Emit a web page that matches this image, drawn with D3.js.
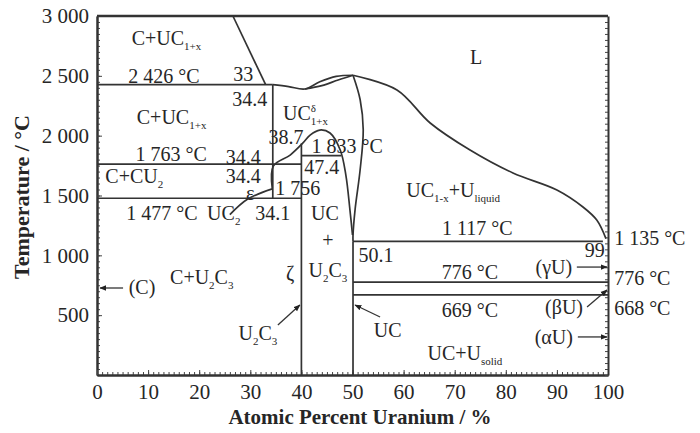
<!DOCTYPE html>
<html>
<head>
<meta charset="utf-8">
<script src="https://cdn.jsdelivr.net/npm/d3@7"></script>
<style>
  body { margin: 0; background: #fff; }
  text { font-family: "Liberation Serif", "Times New Roman", serif; fill: #262626; }
</style>
</head>
<body>
<script>
// axis ticks
const xTicks = [0, 10, 20, 30, 40, 50, 60, 70, 80, 90, 100];
const yTicks = [500, 1000, 1500, 2000, 2500, 3000];

// phase boundaries, [atomic % U, temperature °C]
const cLiquidus = [[26.6, 3000], [33, 2426]];
const eutectic2426 = [[0, 2426], [34.4, 2426]];
const line1763 = [[0, 1763], [40, 1763]];
const line1477 = [[0, 1477], [40, 1477]];
const uc2Edge = [[34.4, 2426], [34.4, 1477]];
const lensUpper = [[34.4, 2426], [37.5, 2410], [40.7, 2390], [43.6, 2450], [46.8, 2495], [50.1, 2505]];
const lensLower = [[40.7, 2390], [44, 2418], [47.2, 2465], [50.1, 2505]];
const ucRight = [[50.1, 2505], [51.5, 2300], [52.1, 2050], [51.5, 1717], [50.5, 1380], [50.1, 1170], [50.1, 1117]];
const ucEdge = [[50.1, 1117], [50.1, 0]];
const dome = [[34.3, 1560], [34.5, 1745], [37.8, 1838], [40.3, 1939], [41.7, 2005], [43.6, 2047], [45.6, 2022], [47.6, 1880], [48.7, 1671], [49.5, 1379], [50, 1170]];
const line1833 = [[40, 1833], [47.8, 1833]];
const epsCurve = [[26, 1340], [29.5, 1470], [34.3, 1555]];
const u2c3Edge = [[40, 1935], [40, 0]];
const line1117 = [[50.1, 1117], [99, 1117]];
const line776 = [[50.1, 776], [100, 776]];
const line669 = [[50.1, 669], [100, 669]];
const uLiquidus = [[50.1, 2505], [58.7, 2382], [65.2, 2106], [73, 1880], [81.4, 1688], [90, 1546], [95.1, 1404], [97.8, 1295], [99.6, 1140]];

const straight = [cLiquidus, eutectic2426, line1763, line1477, uc2Edge, ucEdge, line1833, u2c3Edge, line1117, line776, line669];
const curved = [lensUpper, lensLower, ucRight, dome, epsCurve, uLiquidus];

// leader arrows [from, to]
const leaders = [
  [[5.1, 727], [0.6, 727]],
  [[35.4, 418], [39.7, 585]],
  [[55.4, 485], [50.5, 585]],
  [[93.9, 902], [99.8, 902]],
  [[95.9, 568], [99.8, 710]],
  [[94.1, 318], [99.8, 318]]
];

// region / point labels [text, % U, °C, anchor]
const labels = [
  ["C+UC_{1+x}", 13.6, 2816, "middle"],
  ["2 426 °C", 13.1, 2499, "middle"],
  ["33", 28.6, 2515, "middle"],
  ["34.4", 29.9, 2310, "middle"],
  ["C+UC_{1+x}", 14.6, 2156, "middle"],
  ["UC^{δ}_{1+x}", 40.8, 2189, "middle"],
  ["38.7", 37.0, 1989, "middle"],
  ["1 763 °C", 14.5, 1847, "middle"],
  ["34.4", 28.6, 1822, "middle"],
  ["1 833 °C", 42.0, 1914, "start"],
  ["47.4", 44.0, 1738, "middle"],
  ["C+CU_{2}", 7.3, 1663, "middle"],
  ["34.4", 28.6, 1660, "middle"],
  ["ε", 30.0, 1520, "middle"],
  ["1 756", 39.3, 1563, "middle"],
  ["1 477 °C", 12.7, 1354, "middle"],
  ["UC_{2}", 24.8, 1354, "middle"],
  ["34.1", 34.4, 1354, "middle"],
  ["UC", 44.6, 1354, "middle"],
  ["+", 45.2, 1128, "middle"],
  ["U_{2}C_{3}", 45.2, 877, "middle"],
  ["ζ", 37.8, 852, "middle"],
  ["C+U_{2}C_{3}", 20.5, 819, "middle"],
  ["(C)", 8.8, 735, "middle"],
  ["U_{2}C_{3}", 31.5, 351, "middle"],
  ["L", 74.2, 2657, "middle"],
  ["UC_{1-x}+U_{liquid}", 69.7, 1546, "middle"],
  ["1 117 °C", 74.4, 1228, "middle"],
  ["1 135 °C", 101.2, 1145, "start"],
  ["50.1", 54.6, 1003, "middle"],
  ["99", 97.4, 1045, "middle"],
  ["776 °C", 73.0, 861, "middle"],
  ["(γU)", 89.4, 902, "middle"],
  ["776 °C", 101.2, 811, "start"],
  ["669 °C", 73.0, 543, "middle"],
  ["(βU)", 91.4, 568, "middle"],
  ["668 °C", 101.2, 560, "start"],
  ["UC", 56.9, 376, "middle"],
  ["UC+U_{solid}", 72.0, 184, "middle"],
  ["(αU)", 89.4, 318, "middle"]
];

const width = 700, height = 433;
const margin = {left: 97, right: 92, top: 16, bottom: 58};

const svg = d3.select('body').append('svg')
    .attr('width', width)
    .attr('height', height);

svg.append('defs').append('marker')
    .attr('id', 'arrow')
    .attr('viewBox', '0 0 10 10')
    .attr('refX', 9).attr('refY', 5)
    .attr('markerWidth', 7).attr('markerHeight', 7)
    .attr('markerUnits', 'userSpaceOnUse')
    .attr('orient', 'auto')
    .append('path')
    .attr('d', 'M0,1 L10,5 L0,9 Z')
    .attr('fill', '#222');

let x = d3.scaleLinear().domain([0, 100]).range([margin.left, width - margin.right]);
let y = d3.scaleLinear().domain([0, 3000]).range([height - margin.bottom, margin.top]);

const spaced = d => d3.format(',')(d).replace(/,/g, ' ');

//axes
let yAxis = d3.axisLeft(y).tickValues(yTicks).tickSizeInner(-5).tickSizeOuter(0).tickPadding(8).tickFormat(spaced);
let yMinor = d3.axisLeft(y).ticks(60).tickSizeInner(-3).tickSizeOuter(0).tickFormat('');
let xAxis = d3.axisBottom(x).tickValues(xTicks).tickSizeInner(-5).tickSizeOuter(0).tickPadding(9);
let xMinor = d3.axisBottom(x).ticks(100).tickSizeInner(-3).tickSizeOuter(0).tickFormat('');
let rMinor = d3.axisRight(y).ticks(60).tickSizeInner(-3).tickSizeOuter(0).tickFormat('');

const axisStyle = g => {
  g.select('.domain').attr('stroke', '#333').attr('stroke-width', 2);
  g.selectAll('.tick line').attr('stroke', '#444').attr('stroke-width', 1);
  g.selectAll('.tick text').style('font-size', '21px').attr('fill', '#333');
};

svg.append('g').attr('transform', `translate(${margin.left},0)`).call(yMinor).call(axisStyle);
svg.append('g').attr('transform', `translate(${margin.left},0)`).call(yAxis).call(axisStyle);
svg.append('g').attr('transform', `translate(0,${height - margin.bottom})`).call(xMinor).call(axisStyle);
svg.append('g').attr('transform', `translate(0,${height - margin.bottom})`).call(xAxis).call(axisStyle);
svg.append('g').attr('transform', `translate(${width - margin.right},0)`).call(rMinor).call(axisStyle);

// top frame line
svg.append('line')
    .attr('x1', x(0)).attr('x2', x(100))
    .attr('y1', y(3000)).attr('y2', y(3000))
    .attr('stroke', '#333').attr('stroke-width', 2.5);

// axis titles
svg.append('text')
    .attr('x', 360).attr('y', 424)
    .attr('text-anchor', 'middle')
    .style('font-size', '21px').style('font-weight', 'bold')
    .text('Atomic Percent Uranium / %');
svg.append('text')
    .attr('transform', `translate(29, 197) rotate(-90)`)
    .attr('text-anchor', 'middle')
    .style('font-size', '22px').style('font-weight', 'bold')
    .text('Temperature / °C');

//boundaries
let lineGen = d3.line().x(d => x(d[0])).y(d => y(d[1]));
let curveGen = d3.line().x(d => x(d[0])).y(d => y(d[1])).curve(d3.curveCatmullRom.alpha(0.5));

let diagram = svg.append('g').attr('fill', 'none').attr('stroke', '#333').attr('stroke-width', 1.7);
diagram.selectAll('path.straight')
    .data(straight).enter().append('path')
    .attr('class', 'straight')
    .attr('d', lineGen);
diagram.selectAll('path.curved')
    .data(curved).enter().append('path')
    .attr('class', 'curved')
    .attr('d', curveGen);
diagram.selectAll('path.leader')
    .data(leaders).enter().append('path')
    .attr('class', 'leader')
    .attr('stroke-width', 1.3)
    .attr('marker-end', 'url(#arrow)')
    .attr('d', lineGen);

// labels with sub/superscripts
const addLabel = (g, d) => {
  let t = g.append('text')
      .attr('x', x(d[1])).attr('y', y(d[2]))
      .attr('text-anchor', d[3])
      .style('font-size', '20px');
  let parts = d[0].split(/(_\{[^}]*\}|\^\{[^}]*\})/).filter(p => p.length);
  let shift = 0, first = true, lastSup = null;
  parts.forEach(p => {
    let kind = p[0] === '_' && p[1] === '{' ? 'sub' : (p[0] === '^' && p[1] === '{' ? 'sup' : 'main');
    let txt = kind === 'main' ? p : p.slice(2, -1);
    let target = kind === 'sub' ? 5 : (kind === 'sup' ? -8 : 0);
    let ts = t.append('tspan')
        .attr('dy', target - shift + (first ? 7 : 0))
        .style('font-size', kind === 'main' ? '20px' : '11px')
        .text(txt);
    if (kind === 'sub' && lastSup) ts.attr('dx', -lastSup.node().getComputedTextLength());
    lastSup = kind === 'sup' ? ts : null;
    shift = target;
    first = false;
  });
};

let labelG = svg.append('g');
labels.forEach(d => addLabel(labelG, d));
</script>
</body>
</html>
